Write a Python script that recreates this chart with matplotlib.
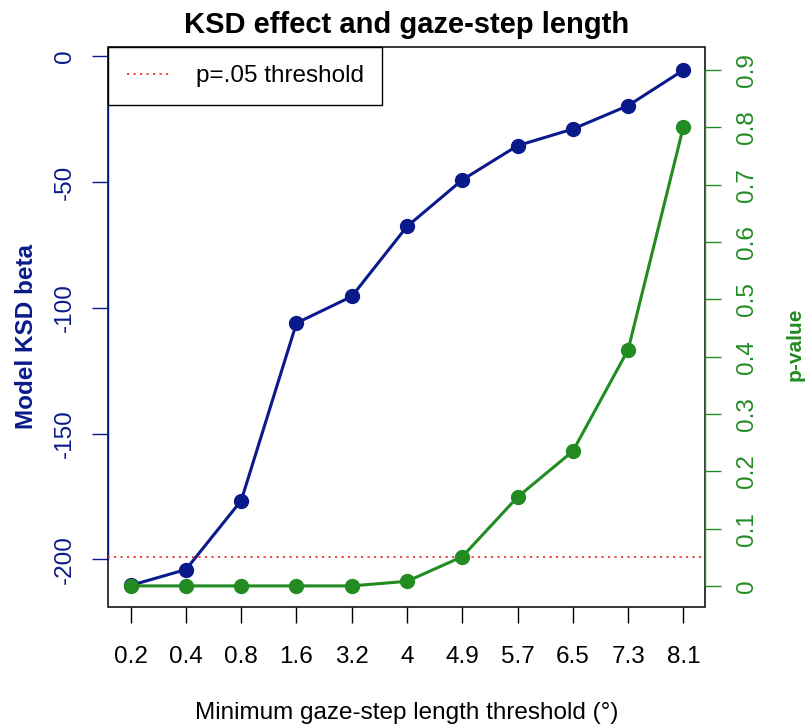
import matplotlib
matplotlib.use("Agg")
import matplotlib.pyplot as plt
from matplotlib.patches import Rectangle

plt.rcParams["font.family"] = ["Liberation Sans", "DejaVu Sans"]
plt.rcParams["axes.unicode_minus"] = False

thresholds = ["0.2", "0.4", "0.8", "1.6", "3.2", "4", "4.9", "5.7", "6.5", "7.3", "8.1"]
ksd_beta = [-210.3, -204.0, -176.6, -106.1, -95.5, -67.7, -49.2, -35.6, -29.0, -19.7, -5.6]
p_values = [0.0, 0.0, 0.0, 0.0, 0.0, 0.008, 0.051, 0.155, 0.235, 0.412, 0.801]
p_cut = 0.05

blue = "#0B1A8A"
green = "#228B22"
fs = 17.5

fig = plt.figure(figsize=(8.08, 7.27), dpi=100)
ax = fig.add_axes([0.134, 0.1657, 0.7385, 0.7697])
xs = list(range(len(thresholds)))

ax.plot(xs, ksd_beta, color=blue, lw=2.2, marker="o", ms=10, zorder=3)
ax.set_xlim(-0.405, 10.39)
ax.set_ylim(-218.7, 3.6)
ax.set_yticks([0, -50, -100, -150, -200])
ax.set_xticks(xs)
ax.set_xticklabels(thresholds)

for s in ["top", "right", "bottom"]:
    ax.spines[s].set_visible(False)
ax.spines["left"].set_bounds(-200, 0)
ax.spines["left"].set_color(blue)
ax.spines["left"].set_linewidth(1.0)
ax.add_patch(Rectangle((0, 0), 1, 1, transform=ax.transAxes, fill=False,
                       ec="black", lw=1.1, clip_on=False, zorder=2.4))

ax.tick_params(axis="y", colors=blue, labelsize=fs, length=11.5, width=1.0,
               pad=11.5, labelrotation=90)
ax.tick_params(axis="x", colors="black", labelsize=fs, length=11.5, width=1.0,
               pad=17)
for t in ax.get_yticklabels():
    t.set_va("center")

ax.set_ylabel("Model KSD beta", color=blue, fontsize=fs, fontweight="bold")
ax.yaxis.set_label_coords(-0.118, 0.482)
ax.set_xlabel("Minimum gaze-step length threshold (\u00b0)", fontsize=fs)
ax.xaxis.set_label_coords(0.5, -0.171)
ax.set_title("KSD effect and gaze-step length", fontsize=21,
             fontweight="bold", pad=10)

ax2 = ax.twinx()
ax2.set_ylim(-0.036, 0.94)
thr, = ax2.plot([-1, 12], [p_cut, p_cut], color="#E53935", lw=1.3,
                ls=(0, (1.2, 2.4)), label="p=.05 threshold")
ax2.plot(xs, p_values, color=green, lw=2.2, marker="o", ms=10, zorder=3)
ax2.set_xlim(-0.405, 10.39)
for s in ["top", "left", "bottom"]:
    ax2.spines[s].set_visible(False)
ax2.spines["right"].set_bounds(0, 0.9)
ax2.spines["right"].set_color(green)
ax2.spines["right"].set_linewidth(1.0)
ax2.set_yticks([i / 10 for i in range(10)])
ax2.set_yticklabels(["0"] + ["%.1f" % (i / 10) for i in range(1, 10)])
ax2.tick_params(axis="y", colors=green, labelsize=fs, length=11.5, width=1.0,
                pad=10.5, labelrotation=90)
for t in ax2.get_yticklabels():
    t.set_va("center")
ax2.set_ylabel("p-value", color=green, fontsize=15, fontweight="bold")
ax2.yaxis.set_label_coords(1.1357, 0.469)

leg = ax2.legend(handles=[thr], loc="upper left", bbox_to_anchor=(0, 1),
                 borderaxespad=0, fancybox=False, framealpha=1,
                 edgecolor="black", fontsize=fs, handlelength=1.85,
                 handletextpad=1.0, borderpad=0.75)
leg.get_frame().set_linewidth(1.0)

fig.savefig("out.png", dpi=100)
